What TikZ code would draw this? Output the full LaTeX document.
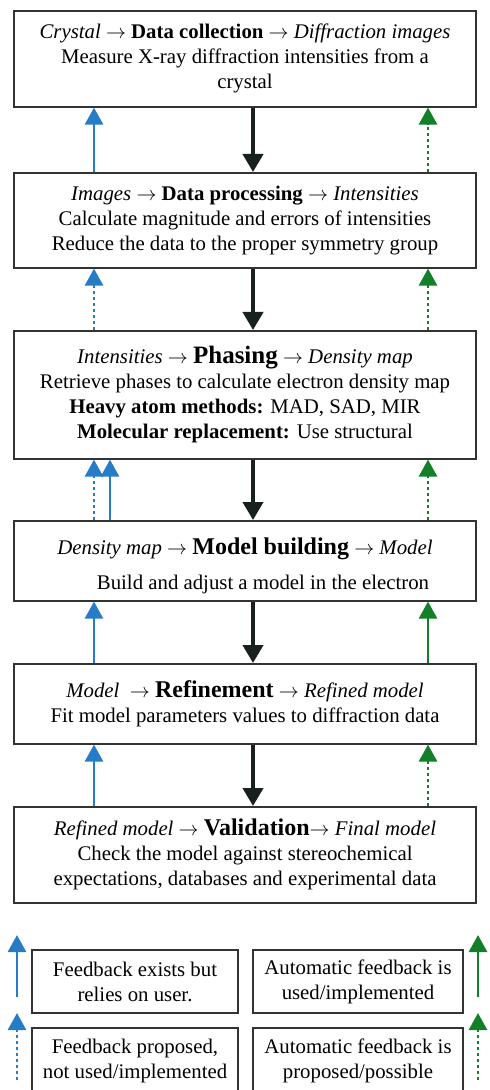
\documentclass[tikz,border=0pt]{standalone}
\usepackage{fontspec}
\setmainfont{Liberation Serif}
\usetikzlibrary{arrows.meta}

\definecolor{fbblue}{RGB}{38,124,199}
\definecolor{fbgreen}{RGB}{18,128,40}
\definecolor{flowblack}{RGB}{25,32,32}

\newcommand{\goesto}{$\rightarrow$}

\begin{document}
\begin{tikzpicture}[x=0.5pt, y=-0.5pt,
    stagebox/.style={draw=black!80, line width=0.8pt, fill=white, minimum width=231pt,
        align=center, inner sep=0pt, anchor=north, font=\fontsize{10.4}{12.5}\selectfont},
    keybox/.style={draw=black!80, line width=0.8pt, align=center, inner sep=0pt,
        font=\fontsize{10.4}{12.5}\selectfont},
    flow/.style={draw=flowblack, line width=2pt, -{Triangle[width=10pt,length=9pt]}},
    userfb/.style={draw=fbblue, line width=1.4pt, -{Triangle[width=9pt,length=8.5pt]}},
    userprop/.style={userfb, dash pattern=on 1.3pt off 1.7pt},
    autofb/.style={draw=fbgreen, line width=1.4pt, -{Triangle[width=9pt,length=8.5pt]}},
    autoprop/.style={autofb, dash pattern=on 1.3pt off 1.7pt}]

    % Page
    \useasboundingbox (0,0) rectangle (489,1090);
    \clip (0,0) rectangle (489,1090);

    % Arrow columns
    \coordinate (lx) at (94,0);
    \coordinate (lx2) at (110,0);
    \coordinate (mx) at (253,0);
    \coordinate (rx) at (428,0);

    % Stages
    \node[stagebox, minimum height=48pt] (coll) at (245,10)
        {\textit{Crystal} \goesto{} \textbf{Data collection} \goesto{} \textit{Diffraction images}\\
         Measure X-ray diffraction intensities from a\\ crystal};
    \node[stagebox, minimum height=47.5pt] (proc) at (245,172)
        {\textit{Images} \goesto{} \textbf{Data processing} \goesto{} \textit{Intensities}\\
         Calculate magnitude and errors of intensities\\
         Reduce the data to the proper symmetry group};
    \node[stagebox, minimum height=64pt] (phas) at (245,330)
        {\textit{Intensities} \goesto{} {\fontsize{12.5}{12.5}\selectfont\bfseries Phasing} \goesto{} \textit{Density map}\\
         Retrieve phases to calculate electron density map\\
         \textbf{Heavy atom methods:} MAD, SAD, MIR\\
         \textbf{Molecular replacement:} Use structural};
    \node[stagebox, minimum height=40pt] (build) at (245,520)
        {\rule{0pt}{13.5pt}\textit{Density map} \goesto{} {\fontsize{12}{12}\selectfont\bfseries Model building} \goesto{} \textit{Model}\\[5pt]
         \hspace*{18pt}Build and adjust a model in the electron};
    \node[stagebox, minimum height=40pt] (refi) at (245,663)
        {\textit{Model}\ \ \goesto{} {\fontsize{12}{12}\selectfont\bfseries Refinement} \goesto{} \textit{Refined model}\\
         Fit model parameters values to diffraction data};
    \node[stagebox, minimum height=48pt] (vali) at (245,806)
        {\textit{Refined model} \goesto{} {\fontsize{12}{12}\selectfont\bfseries Validation}\goesto{} \textit{Final model}\\
         Check the model against stereochemical\\
         expectations, databases and experimental data};

    % Forward flow
    \foreach \a/\b in {coll/proc, proc/phas, phas/build, build/refi, refi/vali}
        \draw[flow] (\a.south -| mx) -- (\b.north -| mx);

    % Feedback
    \draw[userfb] (proc.north -| lx) -- (coll.south -| lx);
    \draw[autoprop] (proc.north -| rx) -- (coll.south -| rx);
    \draw[userprop] (phas.north -| lx) -- (proc.south -| lx);
    \draw[autoprop] (phas.north -| rx) -- (proc.south -| rx);
    \draw[userprop] (build.north -| lx) -- (phas.south -| lx);
    \draw[userfb] (build.north -| lx2) -- (phas.south -| lx2);
    \draw[autoprop] (build.north -| rx) -- (phas.south -| rx);
    \draw[userfb] (refi.north -| lx) -- (build.south -| lx);
    \draw[autofb] (refi.north -| rx) -- (build.south -| rx);
    \draw[userfb] (vali.north -| lx) -- (refi.south -| lx);
    \draw[autoprop] (vali.north -| rx) -- (refi.south -| rx);

    % Key
    \node[keybox, minimum width=103pt, minimum height=31.5pt] (keyuser) at (135,981.5)
        {Feedback exists but\\ relies on user.};
    \node[keybox, minimum width=105pt, minimum height=31.5pt] (keyauto) at (358,981.5)
        {Automatic feedback is\\ used/implemented};
    \node[keybox, minimum width=103pt, minimum height=32.5pt] (keyprop) at (135,1060.5)
        {Feedback proposed,\\ not used/implemented};
    \node[keybox, minimum width=105pt, minimum height=32.5pt] (keypos) at (358,1060.5)
        {Automatic feedback is\\ proposed/possible};

    \coordinate (ka1) at (17,997);   \coordinate (kb1) at (17,935);
    \coordinate (ka2) at (478,997);  \coordinate (kb2) at (478,935);
    \coordinate (ka3) at (17,1080);  \coordinate (kb3) at (17,1013);
    \coordinate (ka4) at (478,1080); \coordinate (kb4) at (478,1013);
    \draw[userfb] (ka1) -- (kb1);
    \draw[autofb] (ka2) -- (kb2);
    \draw[userprop] (ka3) -- (kb3);
    \draw[autoprop] (ka4) -- (kb4);
\end{tikzpicture}
\end{document}
